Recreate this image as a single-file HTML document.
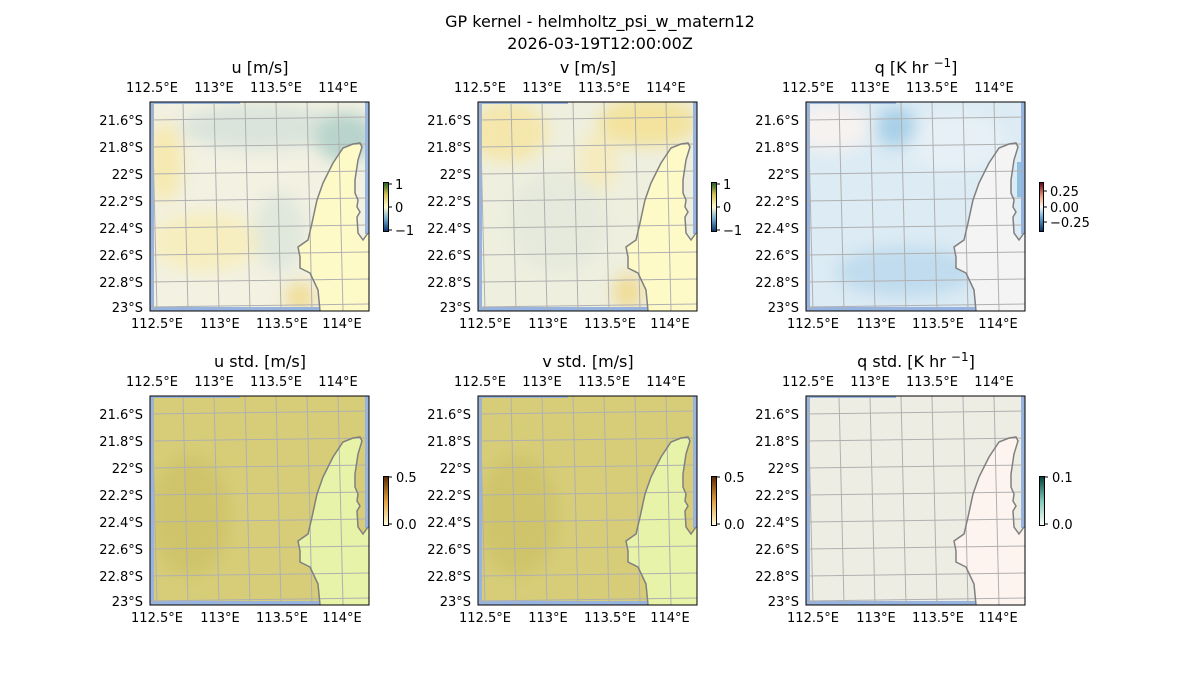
<!DOCTYPE html>
<html><head><meta charset="utf-8"><style>
html,body{margin:0;padding:0;background:#fff;}
svg{display:block;font-family:"DejaVu Sans","Liberation Sans",sans-serif;}
text{font-size:13px;fill:#000;}
</style></head><body>
<svg width="1200" height="700" viewBox="0 0 1200 700">
<defs>
<g id="grid" stroke="#b0b0b0" stroke-width="1" fill="none">
<line x1="2" y1="0" x2="7" y2="209"/><line x1="33" y1="0" x2="38" y2="209"/><line x1="64" y1="0" x2="69" y2="209"/><line x1="95" y1="0" x2="100" y2="209"/><line x1="126" y1="0" x2="131" y2="209"/><line x1="157" y1="0" x2="162" y2="209"/><line x1="188" y1="0" x2="193" y2="209"/>
<line x1="0" y1="18" x2="219" y2="15"/><line x1="0" y1="45" x2="219" y2="42"/><line x1="0" y1="72" x2="219" y2="69"/><line x1="0" y1="99" x2="219" y2="96"/><line x1="0" y1="126" x2="219" y2="123"/><line x1="0" y1="153" x2="219" y2="150"/><line x1="0" y1="180" x2="219" y2="177"/><line x1="0" y1="205" x2="219" y2="202"/>
</g>
<path id="coast" d="M170,209 L168,188 L160,171 L150,166 L150,155 L148,145 L158,138 L162,121 L167,98 L173,81 L183,61 L193,46 L203,42 L210,41 L212,45 L208,58 L205,78 L205,91 L208,98 L207,105 L210,110 L207,115 L208,131 L213,138 L218,131" fill="none" stroke="#808080" stroke-width="1.5"/>
<path id="land" d="M170,209 L168,188 L160,171 L150,166 L150,155 L148,145 L158,138 L162,121 L167,98 L173,81 L183,61 L193,46 L203,42 L210,41 L212,45 L208,58 L205,78 L205,91 L208,98 L207,105 L210,110 L207,115 L208,131 L213,138 L219,131 L219,209 Z"/>
<g id="edges" fill="#97b4e0">
<rect x="0" y="0" width="4" height="209"/><rect x="0" y="0" width="90" height="2"/><rect x="215" y="0" width="4" height="132"/><rect x="0" y="205" width="170" height="4"/>
</g>
<filter id="bl"><feGaussianBlur stdDeviation="8"/></filter>
<linearGradient id="cbu" x1="0" y1="1" x2="0" y2="0"><stop offset="0" stop-color="#08306b"/><stop offset="0.25" stop-color="#6fa8c8"/><stop offset="0.5" stop-color="#fffbd2"/><stop offset="0.75" stop-color="#d7c35a"/><stop offset="1" stop-color="#1b5e20"/></linearGradient>
<linearGradient id="cbq" x1="0" y1="1" x2="0" y2="0"><stop offset="0" stop-color="#053061"/><stop offset="0.3" stop-color="#6baed6"/><stop offset="0.5" stop-color="#f7f7f7"/><stop offset="0.7" stop-color="#f4a582"/><stop offset="1" stop-color="#67001f"/></linearGradient>
<linearGradient id="cbs" x1="0" y1="1" x2="0" y2="0"><stop offset="0" stop-color="#fffde0"/><stop offset="0.5" stop-color="#e0a040"/><stop offset="1" stop-color="#5a2a00"/></linearGradient>
<linearGradient id="cbqs" x1="0" y1="1" x2="0" y2="0"><stop offset="0" stop-color="#fffef8"/><stop offset="0.5" stop-color="#7fc8b8"/><stop offset="1" stop-color="#00403a"/></linearGradient>
<clipPath id="cp"><rect x="0" y="0" width="219" height="209"/></clipPath>
</defs>

<text x="600" y="27" text-anchor="middle" style="font-size:16px">GP kernel - helmholtz_psi_w_matern12</text>
<text x="600" y="49" text-anchor="middle" style="font-size:16px">2026-03-19T12:00:00Z</text>

<!-- Panel 1 -->
<g transform="translate(150,102)">
<g clip-path="url(#cp)">
<rect width="219" height="209" fill="#f2f1e2"/>
<g filter="url(#bl)">
<ellipse cx="110" cy="25" rx="80" ry="22" fill="#d9e4dc"/>
<ellipse cx="195" cy="35" rx="30" ry="25" fill="#b8d4cc"/>
<ellipse cx="15" cy="60" rx="18" ry="40" fill="#f6e9b0"/>
<ellipse cx="55" cy="140" rx="55" ry="30" fill="#f7eec0"/>
<ellipse cx="130" cy="130" rx="25" ry="40" fill="#e0e8dc"/>
<ellipse cx="150" cy="195" rx="15" ry="15" fill="#f1dd95"/>
</g>
<use href="#land" fill="#fefac8"/>
<use href="#edges"/>
<use href="#grid"/><use href="#coast"/>
</g>
<rect width="219" height="209" fill="none" stroke="#000"/>
</g>
<!-- Panel 2 -->
<g transform="translate(478,102)">
<g clip-path="url(#cp)">
<rect width="219" height="209" fill="#eeefdf"/>
<g filter="url(#bl)">
<ellipse cx="30" cy="30" rx="40" ry="30" fill="#f5e7ab"/>
<ellipse cx="170" cy="20" rx="50" ry="25" fill="#f3e39e"/>
<ellipse cx="120" cy="60" rx="20" ry="30" fill="#f5ebbd"/>
<ellipse cx="80" cy="120" rx="50" ry="50" fill="#e6eadc"/>
<ellipse cx="150" cy="190" rx="15" ry="18" fill="#f0dc95"/>
</g>
<use href="#land" fill="#fefac8"/>
<use href="#edges"/>
<use href="#grid"/><use href="#coast"/>
</g>
<rect width="219" height="209" fill="none" stroke="#000"/>
</g>
<!-- Panel 3 -->
<g transform="translate(806,102)">
<g clip-path="url(#cp)">
<rect width="219" height="209" fill="#dcebf4"/>
<g filter="url(#bl)">
<ellipse cx="25" cy="25" rx="40" ry="25" fill="#f6f2f0"/>
<ellipse cx="150" cy="40" rx="50" ry="30" fill="#e6f0f6"/>
<ellipse cx="90" cy="25" rx="20" ry="20" fill="#a8d0e8"/>
<ellipse cx="100" cy="170" rx="70" ry="25" fill="#c0dcee"/>
</g>
<use href="#land" fill="#f4f4f4"/>
<rect x="211" y="60" width="8" height="35" fill="#8fc0e0"/>
<use href="#edges"/>
<use href="#grid"/><use href="#coast"/>
</g>
<rect width="219" height="209" fill="none" stroke="#000"/>
</g>
<!-- Panel 4 -->
<g transform="translate(150,396)">
<g clip-path="url(#cp)">
<rect width="219" height="209" fill="#d7cd78"/>
<g filter="url(#bl)"><ellipse cx="40" cy="120" rx="40" ry="60" fill="#cfc46a"/></g>
<use href="#land" fill="#e6f3a8"/>
<use href="#edges"/>
<use href="#grid"/><use href="#coast"/>
</g>
<rect width="219" height="209" fill="none" stroke="#000"/>
</g>
<!-- Panel 5 -->
<g transform="translate(478,396)">
<g clip-path="url(#cp)">
<rect width="219" height="209" fill="#d7cd78"/>
<g filter="url(#bl)"><ellipse cx="40" cy="120" rx="40" ry="60" fill="#cfc46a"/></g>
<use href="#land" fill="#e6f3a8"/>
<use href="#edges"/>
<use href="#grid"/><use href="#coast"/>
</g>
<rect width="219" height="209" fill="none" stroke="#000"/>
</g>
<!-- Panel 6 -->
<g transform="translate(806,396)">
<g clip-path="url(#cp)">
<rect width="219" height="209" fill="#eeede4"/>
<use href="#land" fill="#fdf3ef"/>
<use href="#edges"/>
<use href="#grid"/><use href="#coast"/>
</g>
<rect width="219" height="209" fill="none" stroke="#000"/>
</g>

<!-- tick labels row 1 -->
<g>
<text x="152" y="92" text-anchor="middle">112.5°E</text><text x="214" y="92" text-anchor="middle">113°E</text><text x="276" y="92" text-anchor="middle">113.5°E</text><text x="338" y="92" text-anchor="middle">114°E</text>
<text x="157" y="328" text-anchor="middle">112.5°E</text><text x="220" y="328" text-anchor="middle">113°E</text><text x="282" y="328" text-anchor="middle">113.5°E</text><text x="342" y="328" text-anchor="middle">114°E</text>
<text x="480" y="92" text-anchor="middle">112.5°E</text><text x="542" y="92" text-anchor="middle">113°E</text><text x="604" y="92" text-anchor="middle">113.5°E</text><text x="666" y="92" text-anchor="middle">114°E</text>
<text x="485" y="328" text-anchor="middle">112.5°E</text><text x="548" y="328" text-anchor="middle">113°E</text><text x="610" y="328" text-anchor="middle">113.5°E</text><text x="670" y="328" text-anchor="middle">114°E</text>
<text x="808" y="92" text-anchor="middle">112.5°E</text><text x="870" y="92" text-anchor="middle">113°E</text><text x="932" y="92" text-anchor="middle">113.5°E</text><text x="994" y="92" text-anchor="middle">114°E</text>
<text x="813" y="328" text-anchor="middle">112.5°E</text><text x="876" y="328" text-anchor="middle">113°E</text><text x="938" y="328" text-anchor="middle">113.5°E</text><text x="998" y="328" text-anchor="middle">114°E</text>
</g>
<g text-anchor="end">
<text x="143" y="125">21.6°S</text><text x="143" y="152">21.8°S</text><text x="143" y="179">22°S</text><text x="143" y="206">22.2°S</text><text x="143" y="233">22.4°S</text><text x="143" y="260">22.6°S</text><text x="143" y="287">22.8°S</text><text x="143" y="312">23°S</text>
<text x="471" y="125">21.6°S</text><text x="471" y="152">21.8°S</text><text x="471" y="179">22°S</text><text x="471" y="206">22.2°S</text><text x="471" y="233">22.4°S</text><text x="471" y="260">22.6°S</text><text x="471" y="287">22.8°S</text><text x="471" y="312">23°S</text>
<text x="799" y="125">21.6°S</text><text x="799" y="152">21.8°S</text><text x="799" y="179">22°S</text><text x="799" y="206">22.2°S</text><text x="799" y="233">22.4°S</text><text x="799" y="260">22.6°S</text><text x="799" y="287">22.8°S</text><text x="799" y="312">23°S</text>
</g>
<!-- tick labels row 2 -->
<g>
<text x="152" y="386" text-anchor="middle">112.5°E</text><text x="214" y="386" text-anchor="middle">113°E</text><text x="276" y="386" text-anchor="middle">113.5°E</text><text x="338" y="386" text-anchor="middle">114°E</text>
<text x="157" y="622" text-anchor="middle">112.5°E</text><text x="220" y="622" text-anchor="middle">113°E</text><text x="282" y="622" text-anchor="middle">113.5°E</text><text x="342" y="622" text-anchor="middle">114°E</text>
<text x="480" y="386" text-anchor="middle">112.5°E</text><text x="542" y="386" text-anchor="middle">113°E</text><text x="604" y="386" text-anchor="middle">113.5°E</text><text x="666" y="386" text-anchor="middle">114°E</text>
<text x="485" y="622" text-anchor="middle">112.5°E</text><text x="548" y="622" text-anchor="middle">113°E</text><text x="610" y="622" text-anchor="middle">113.5°E</text><text x="670" y="622" text-anchor="middle">114°E</text>
<text x="808" y="386" text-anchor="middle">112.5°E</text><text x="870" y="386" text-anchor="middle">113°E</text><text x="932" y="386" text-anchor="middle">113.5°E</text><text x="994" y="386" text-anchor="middle">114°E</text>
<text x="813" y="622" text-anchor="middle">112.5°E</text><text x="876" y="622" text-anchor="middle">113°E</text><text x="938" y="622" text-anchor="middle">113.5°E</text><text x="998" y="622" text-anchor="middle">114°E</text>
</g>
<g text-anchor="end">
<text x="143" y="419">21.6°S</text><text x="143" y="446">21.8°S</text><text x="143" y="473">22°S</text><text x="143" y="500">22.2°S</text><text x="143" y="527">22.4°S</text><text x="143" y="554">22.6°S</text><text x="143" y="581">22.8°S</text><text x="143" y="606">23°S</text>
<text x="471" y="419">21.6°S</text><text x="471" y="446">21.8°S</text><text x="471" y="473">22°S</text><text x="471" y="500">22.2°S</text><text x="471" y="527">22.4°S</text><text x="471" y="554">22.6°S</text><text x="471" y="581">22.8°S</text><text x="471" y="606">23°S</text>
<text x="799" y="419">21.6°S</text><text x="799" y="446">21.8°S</text><text x="799" y="473">22°S</text><text x="799" y="500">22.2°S</text><text x="799" y="527">22.4°S</text><text x="799" y="554">22.6°S</text><text x="799" y="581">22.8°S</text><text x="799" y="606">23°S</text>
</g>

<!-- subplot titles -->
<g text-anchor="middle" style="font-size:16px">
<text x="260" y="73" style="font-size:16px">u [m/s]</text>
<text x="588" y="73" style="font-size:16px">v [m/s]</text>
<text x="916" y="73" style="font-size:16px">q [K hr <tspan dy="-6" style="font-size:12px">−1</tspan><tspan dy="6">]</tspan></text>
<text x="260" y="367" style="font-size:16px">u std. [m/s]</text>
<text x="588" y="367" style="font-size:16px">v std. [m/s]</text>
<text x="916" y="367" style="font-size:16px">q std. [K hr <tspan dy="-6" style="font-size:12px">−1</tspan><tspan dy="6">]</tspan></text>
</g>

<!-- colorbars -->
<g stroke="#000" stroke-width="1">
<rect x="383.5" y="182.5" width="5" height="49" fill="url(#cbu)"/>
<line x1="388" y1="184" x2="392" y2="184"/><line x1="388" y1="207" x2="392" y2="207"/><line x1="388" y1="230" x2="392" y2="230"/>
<rect x="711.5" y="182.5" width="5" height="49" fill="url(#cbu)"/>
<line x1="716" y1="184" x2="720" y2="184"/><line x1="716" y1="207" x2="720" y2="207"/><line x1="716" y1="230" x2="720" y2="230"/>
<rect x="1039.5" y="182.5" width="4" height="49" fill="url(#cbq)"/>
<line x1="1043" y1="191" x2="1047" y2="191"/><line x1="1043" y1="207" x2="1047" y2="207"/><line x1="1043" y1="222" x2="1047" y2="222"/>
<rect x="383.5" y="476.5" width="5" height="49" fill="url(#cbs)"/>
<line x1="388" y1="477" x2="392" y2="477"/><line x1="388" y1="524" x2="392" y2="524"/>
<rect x="711.5" y="476.5" width="5" height="49" fill="url(#cbs)"/>
<line x1="716" y1="477" x2="720" y2="477"/><line x1="716" y1="524" x2="720" y2="524"/>
<rect x="1039.5" y="476.5" width="5" height="49" fill="url(#cbqs)"/>
<line x1="1044" y1="477" x2="1048" y2="477"/><line x1="1044" y1="524" x2="1048" y2="524"/>
</g>
<text x="395" y="189">1</text><text x="395" y="212">0</text><text x="395" y="235">−1</text>
<text x="723" y="189">1</text><text x="723" y="212">0</text><text x="723" y="235">−1</text>
<text x="1050" y="196">0.25</text><text x="1050" y="212">0.00</text><text x="1050" y="227">−0.25</text>
<text x="396" y="482">0.5</text><text x="396" y="529">0.0</text>
<text x="724" y="482">0.5</text><text x="724" y="529">0.0</text>
<text x="1052" y="482">0.1</text><text x="1052" y="529">0.0</text>
</svg>
</body></html>
